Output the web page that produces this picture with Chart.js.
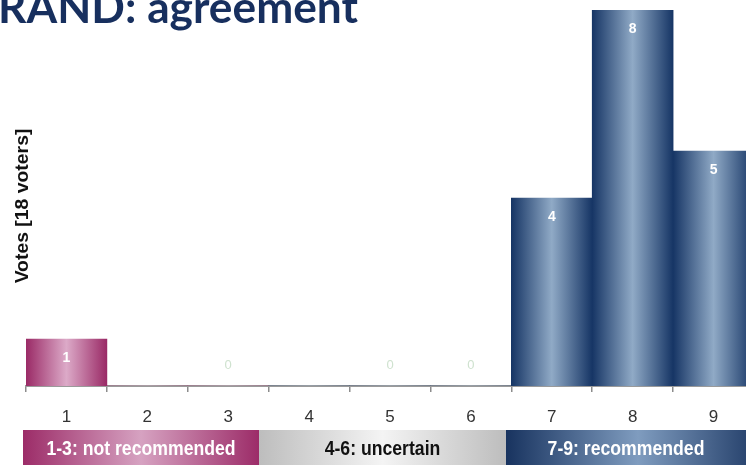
<!DOCTYPE html>
<html>
<head>
<meta charset="utf-8">
<script src="https://cdn.jsdelivr.net/npm/chart.js@4/dist/chart.umd.min.js"></script>
<style>
  html, body { margin: 0; padding: 0; background: #ffffff; overflow: hidden; }
  #wrap { position: relative; width: 770px; height: 465px; }
</style>
</head>
<body>
<div id="wrap"><canvas id="c" width="770" height="465"></canvas></div>
<script>
// Rating scale 1..9 and number of votes per rating
const ratings = ['1', '2', '3', '4', '5', '6', '7', '8', '9'];
const votes = [1, 0, 0, 0, 0, 0, 4, 8, 5];
// Which zero counts get a visible "0" label
const zeroLabelShown = [false, false, true, false, true, true, false, false, false];
// Agreement bands under the axis
const bandLabels = ['1-3: not recommended', '4-6: uncertain', '7-9: recommended'];
const chartTitle = 'RAND: agreement';
const yTitle = 'Votes [18 voters]';

function barGradient(ctx) {
  const chart = ctx.chart;
  const x = chart.scales.x;
  const v = Number(ratings[ctx.dataIndex]);
  const fallback = v <= 3 ? '#b9628f' : '#1b3a6b';
  if (!x || ctx.dataIndex === undefined) return fallback;
  const cx = x.getPixelForValue(ctx.dataIndex);
  const w = x.width / ratings.length;
  if (!isFinite(cx) || !isFinite(w) || w <= 0) return fallback;
  const g = chart.ctx.createLinearGradient(cx - w / 2, 0, cx + w / 2, 0);
  if (v <= 3) {
    g.addColorStop(0, '#9a2a66');
    g.addColorStop(0.5, '#dcaac8');
    g.addColorStop(1, '#9a2a66');
  } else {
    g.addColorStop(0, '#163565');
    g.addColorStop(0.5, '#90aac6');
    g.addColorStop(1, '#163565');
  }
  return g;
}

const decorations = {
  id: 'decorations',
  beforeDraw(chart) {
    const c = chart.ctx;
    // agreement bands
    const top = 430, h = 40;
    const bands = [
      { x0: 23, x1: 259, stops: ['#9c2c68', '#d6a2c1', '#9c2c68'], color: '#ffffff' },
      { x0: 259, x1: 506, stops: ['#bdbdbd', '#f4f4f4', '#bdbdbd'], color: '#111111' },
      { x0: 506, x1: 770, stops: ['#18335f', '#7f9cbf', '#18335f'], color: '#ffffff' }
    ];
    bands.forEach((b, i) => {
      const g = c.createLinearGradient(b.x0, 0, b.x1, 0);
      g.addColorStop(0, b.stops[0]);
      g.addColorStop(0.5, b.stops[1]);
      g.addColorStop(1, b.stops[2]);
      c.fillStyle = g;
      c.fillRect(b.x0, top, b.x1 - b.x0, h);
      c.save();
      c.fillStyle = b.color;
      c.font = 'bold 21px "Liberation Sans", Arial, sans-serif';
      c.textAlign = 'center';
      c.textBaseline = 'middle';
      const cx = i === 2 ? 626 : (b.x0 + b.x1) / 2;
      // condensed lettering
      c.translate(cx, 449);
      c.scale(0.84, 1);
      c.fillText(bandLabels[i], 0, 0);
      c.restore();
    });
  },
  afterDraw(chart) {
    const c = chart.ctx;
    // title
    c.save();
    c.fillStyle = '#172f5e';
    c.font = 'bold 43px Lato, "Open Sans", "Liberation Sans", sans-serif';
    c.textBaseline = 'alphabetic';
    c.textAlign = 'left';
    const w = c.measureText(chartTitle).width;
    c.translate(-2, 23);
    c.scale(360 / w, 1);
    c.fillText(chartTitle, 0, 0);
    c.restore();
    // y axis title
    c.save();
    c.fillStyle = '#111111';
    c.font = 'bold 19px "Liberation Sans", Arial, sans-serif';
    c.translate(23, 206);
    c.rotate(-Math.PI / 2);
    c.textAlign = 'center';
    c.textBaseline = 'middle';
    c.scale(1.02, 1);
    c.fillText(yTitle, 0, 0);
    c.restore();
  },
  afterDatasetsDraw(chart) {
    const c = chart.ctx;
    const meta = chart.getDatasetMeta(0);
    const base = chart.scales.y.getPixelForValue(0);
    c.save();
    c.textAlign = 'center';
    c.textBaseline = 'middle';
    meta.data.forEach((bar, i) => {
      const v = votes[i];
      if (v > 0) {
        c.fillStyle = '#ffffff';
        c.font = 'bold 14px "Liberation Sans", Arial, sans-serif';
        c.fillText(String(v), bar.x, bar.y + 19);
      } else if (zeroLabelShown[i]) {
        c.fillStyle = '#cfe2cf';
        c.font = '13px "Liberation Sans", Arial, sans-serif';
        c.fillText(String(v), bar.x, base - 21);
      }
    });
    c.restore();
  }
};

new Chart(document.getElementById('c'), {
  type: 'bar',
  data: {
    labels: ratings,
    datasets: [{
      data: votes,
      backgroundColor: barGradient,
      borderWidth: 0,
      categoryPercentage: 1,
      barPercentage: 1
    }]
  },
  options: {
    responsive: false,
    animation: false,
    events: [],
    layout: { padding: { left: 26, top: 10, right: 16, bottom: 0 } },
    plugins: { legend: { display: false }, tooltip: { enabled: false }, title: { display: false } },
    scales: {
      x: {
        afterFit(s) { s.height = 79; },
        grid: { display: true, drawOnChartArea: false, drawTicks: true, tickLength: 6, color: '#8c8c8c', lineWidth: 1.5, offset: true },
        border: { display: true, color: '#9a9a9a', width: 2 },
        ticks: { color: '#333333', font: { size: 17, family: '"Liberation Sans", Arial, sans-serif' }, padding: 15, maxRotation: 0 }
      },
      y: {
        display: false,
        min: 0,
        max: 8
      }
    }
  },
  plugins: [decorations]
});
</script>
</body>
</html>
